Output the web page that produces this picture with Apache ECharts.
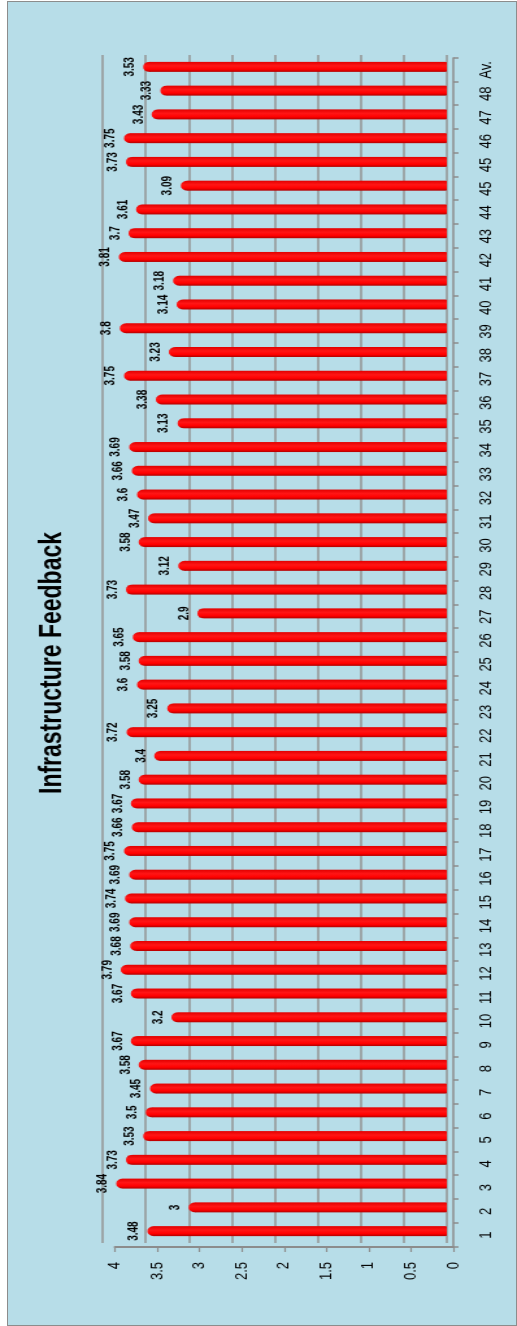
<!DOCTYPE html>
<html>
<head>
<meta charset="utf-8">
<script src="https://cdn.jsdelivr.net/npm/echarts@6/dist/echarts.min.js"></script>
<style>
  html, body { margin: 0; padding: 0; width: 517px; height: 1326px; overflow: hidden; background: #ffffff; }
  #wrap { position: absolute; left: 0; top: 0; width: 1326px; height: 517px; transform-origin: 0 0; transform: translateY(1326px) rotate(-90deg); background: #ffffff; }
  #frame { position: absolute; left: 0; top: 7px; width: 1325px; height: 510px; background: #B7DDE8; border: 1px solid #8C8C8C; box-sizing: border-box; }
  /* the source chart's text is tall and narrow: draw at 398px high and stretch to 517px */
  #chart { position: absolute; left: 0; top: 0; width: 1326px; height: 398px; transform-origin: 0 0; transform: scaleY(1.299); }
</style>
</head>
<body>
<div id="wrap">
  <div id="frame"></div>
  <div id="chart"></div>
</div>
<script>
const chartTitle = 'Infrastructure Feedback';
const categories = ['1','2','3','4','5','6','7','8','9','10','11','12','13','14','15','16','17','18','19','20',
  '21','22','23','24','25','26','27','28','29','30','31','32','33','34','35','36','37','38','39','40',
  '41','42','43','44','45','45','46','47','48','Av.'];
const scores = [3.48, 3, 3.84, 3.73, 3.53, 3.5, 3.45, 3.58, 3.67, 3.2,
  3.67, 3.79, 3.68, 3.69, 3.74, 3.69, 3.75, 3.66, 3.67, 3.58,
  3.4, 3.72, 3.25, 3.6, 3.58, 3.65, 2.9, 3.73, 3.12, 3.58,
  3.47, 3.6, 3.66, 3.69, 3.13, 3.38, 3.75, 3.23, 3.8, 3.14,
  3.18, 3.81, 3.7, 3.61, 3.09, 3.73, 3.75, 3.43, 3.33, 3.53];
const valueMin = 0;
const valueMax = 4;
const valueStep = 0.5;

const font = "'Liberation Sans', Arial, sans-serif";
const axisGray = '#8C8C8C';

const chart = echarts.init(document.getElementById('chart'), null, { renderer: 'canvas' });
chart.setOption({
  backgroundColor: 'transparent',
  animation: false,
  title: {
    text: chartTitle,
    left: 'center',
    top: 24,
    textStyle: { fontFamily: font, fontSize: 23, fontWeight: 'bold', color: '#000' }
  },
  grid: [
    { left: 83, right: 55, top: 79, bottom: 54 },
    { left: 79, right: 58, top: 88.5, bottom: 49 }
  ],
  xAxis: [
    { type: 'category', gridIndex: 0, data: categories, show: false, boundaryGap: true },
    {
      type: 'category', gridIndex: 1, data: categories, boundaryGap: true,
      axisLine: { show: true, lineStyle: { color: axisGray, width: 1.6 } },
      axisTick: { show: true, length: 4, interval: 0, lineStyle: { color: axisGray, width: 1.5 } },
      axisLabel: { interval: 0, margin: 19, fontSize: 13, color: '#000', fontFamily: font },
      splitLine: { show: false }
    }
  ],
  yAxis: [
    {
      type: 'value', gridIndex: 0, min: valueMin, max: valueMax, interval: valueStep,
      axisLine: { show: false }, axisTick: { show: false }, axisLabel: { show: false },
      splitLine: { show: true, lineStyle: { color: '#939393', width: 1.6 } }
    },
    {
      type: 'value', gridIndex: 1, min: valueMin, max: valueMax, interval: valueStep,
      axisLine: { show: true, lineStyle: { color: axisGray, width: 2 } },
      axisTick: { show: true, length: 5, lineStyle: { color: axisGray, width: 1.2 } },
      axisLabel: { margin: 15, fontSize: 13, color: '#000', fontFamily: font },
      splitLine: { show: false }
    }
  ],
  series: [
    {
      type: 'bar',
      xAxisIndex: 0,
      yAxisIndex: 0,
      data: scores,
      barWidth: 10,
      itemStyle: {
        borderRadius: [5, 5, 1, 1],
        color: {
          type: 'linear', x: 0, y: 0, x2: 1, y2: 0,
          colorStops: [
            { offset: 0, color: '#B00000' },
            { offset: 0.25, color: '#FF0000' },
            { offset: 0.6, color: '#FF1515' },
            { offset: 1, color: '#E00000' }
          ]
        }
      },
      label: {
        show: true,
        position: 'top',
        distance: 5,
        fontFamily: font,
        fontWeight: 'bold',
        fontSize: 10,
        color: '#000'
      }
    }
  ]
});
</script>
</body>
</html>
